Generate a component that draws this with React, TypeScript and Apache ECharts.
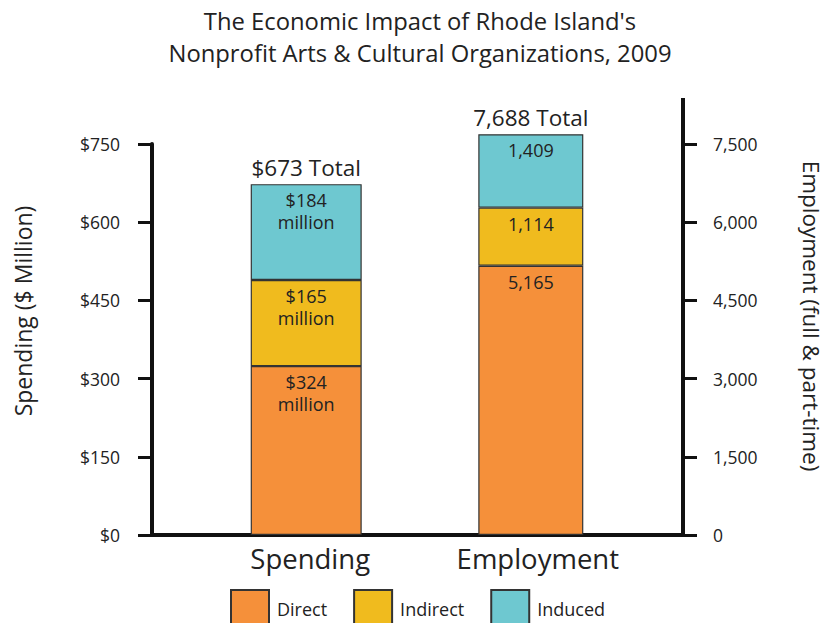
import React, { useEffect, useRef } from "react";
import * as echarts from "echarts";

const categories = ["Spending", "Employment"];
const segmentNames = ["Direct", "Indirect", "Induced"];
const spendingValues = [324, 165, 184]; // $ million
const employmentValues = [5165, 1114, 1409]; // jobs
const spendingTicks = { min: 0, max: 750, interval: 150 };
const employmentTicks = { min: 0, max: 7500, interval: 1500 };
const colors = ["#F5903A", "#F0BB1E", "#6EC8D0"];
const titleLines = [
  "The Economic Impact of Rhode Island's",
  "Nonprofit Arts & Cultural Organizations, 2009",
];

const FONT = "'Open Sans', 'Noto Sans', sans-serif";
const TXT = "#222";
const fmt = (v: number) => v.toLocaleString("en-US");

export default function App() {
  const ref = useRef<HTMLDivElement>(null);
  useEffect(() => {
    if (!ref.current) return;
    const chart = echarts.init(ref.current, null, { renderer: "svg" });
    const spendingTotal = spendingValues.reduce((a, b) => a + b, 0);
    const employmentTotal = employmentValues.reduce((a, b) => a + b, 0);

    const inLabel = {
      show: true,
      position: "insideTop",
      distance: 5,
      fontFamily: FONT,
      fontSize: 18,
      lineHeight: 22,
      color: TXT,
    };
    const totalLabel = {
      show: true,
      position: "top",
      distance: 5,
      fontFamily: FONT,
      fontSize: 22.5,
      color: TXT,
    };

    const series: any[] = [];
    segmentNames.forEach((name, i) => {
      series.push({
        name,
        type: "bar",
        stack: "sp",
        yAxisIndex: 0,
        barWidth: 111,
        barGap: "-100%",
        clip: false,
        data: [spendingValues[i], "-"],
        itemStyle: { color: colors[i], borderColor: "#333", borderWidth: 1.2 },
        label: { ...inLabel, formatter: (p: any) => `$${p.value}\nmillion` },
      });
    });
    series.push({
      name: "spendingTotal",
      type: "bar",
      stack: "sp",
      yAxisIndex: 0,
      barWidth: 111,
      barGap: "-100%",
      clip: false,
      data: [0, "-"],
      itemStyle: { color: "transparent", borderWidth: 0 },
      label: { ...totalLabel, formatter: () => `$${spendingTotal} Total` },
    });
    segmentNames.forEach((name, i) => {
      series.push({
        name,
        type: "bar",
        stack: "em",
        yAxisIndex: 1,
        barWidth: 105,
        barGap: "-100%",
        clip: false,
        data: ["-", employmentValues[i]],
        itemStyle: { color: colors[i], borderColor: "#333", borderWidth: 1.2 },
        label: { ...inLabel, formatter: (p: any) => fmt(p.value) },
      });
    });
    series.push({
      name: "employmentTotal",
      type: "bar",
      stack: "em",
      yAxisIndex: 1,
      barWidth: 105,
      barGap: "-100%",
      clip: false,
      data: ["-", 0],
      itemStyle: { color: "transparent", borderWidth: 0 },
      label: { ...totalLabel, formatter: () => `${fmt(employmentTotal)} Total` },
    });

    const axisCommon = {
      type: "value",
      splitLine: { show: false },
      axisLine: { show: true, lineStyle: { color: "#111", width: 4 } },
      axisTick: { show: true, inside: false, length: 14, lineStyle: { color: "#111", width: 3 } },
    };

    chart.setOption({
      animation: false,
      grid: { left: 189.4, right: 181.4, top: 144, bottom: 88 },
      legend: {
        data: segmentNames,
        icon: "rect",
        left: 225,
        top: 584,
        itemWidth: 38,
        itemHeight: 38,
        itemGap: 26,
        textStyle: { fontFamily: FONT, fontSize: 18, color: TXT, padding: [0, 0, 0, 3] },
        selectedMode: false,
      },
      xAxis: {
        type: "category",
        data: categories,
        axisLine: { show: false },
        axisTick: { show: false },
        axisLabel: {
          fontFamily: FONT,
          fontSize: 27.5,
          color: TXT,
          margin: 9,
          padding: [0, 0, 0, 14],
        },
      },
      yAxis: [
        {
          ...axisCommon,
          position: "left",
          offset: 37.4,
          min: spendingTicks.min,
          max: spendingTicks.max,
          interval: spendingTicks.interval,
          axisLabel: {
            formatter: (v: number) => `$${v}`,
            fontFamily: FONT,
            fontSize: 17.5,
            color: TXT,
            margin: 32,
          },
        },
        {
          ...axisCommon,
          position: "right",
          offset: 38.4,
          min: employmentTicks.min,
          max: employmentTicks.max,
          interval: employmentTicks.interval,
          axisLabel: {
            formatter: (v: number) => fmt(v),
            fontFamily: FONT,
            fontSize: 17.5,
            color: TXT,
            margin: 30,
          },
        },
      ],
      graphic: [
        {
          type: "text",
          x: 420,
          y: 21,
          style: { text: titleLines[0], font: `23.8px ${FONT}`, fill: TXT, align: "center", verticalAlign: "middle" },
        },
        {
          type: "text",
          x: 420,
          y: 53,
          style: { text: titleLines[1], font: `23.8px ${FONT}`, fill: TXT, align: "center", verticalAlign: "middle" },
        },
        {
          type: "text",
          x: 23,
          y: 311,
          rotation: Math.PI / 2,
          style: { text: "Spending ($ Million)", font: `23px ${FONT}`, fill: TXT, align: "center", verticalAlign: "middle" },
        },
        {
          type: "text",
          x: 811,
          y: 316,
          rotation: -Math.PI / 2,
          style: { text: "Employment (full & part-time)", font: `22.5px ${FONT}`, fill: TXT, align: "center", verticalAlign: "middle" },
        },
        {
          type: "line",
          shape: { x1: 150, y1: 535, x2: 685, y2: 535 },
          style: { stroke: "#111", lineWidth: 4 },
        },
        {
          type: "line",
          shape: { x1: 683, y1: 98, x2: 683, y2: 146 },
          style: { stroke: "#111", lineWidth: 4 },
        },
      ],
      series,
    });
    return () => chart.dispose();
  }, []);
  return <div ref={ref} style={{ position: "absolute", left: 0, top: 0, width: 826, height: 623 }} />;
}
